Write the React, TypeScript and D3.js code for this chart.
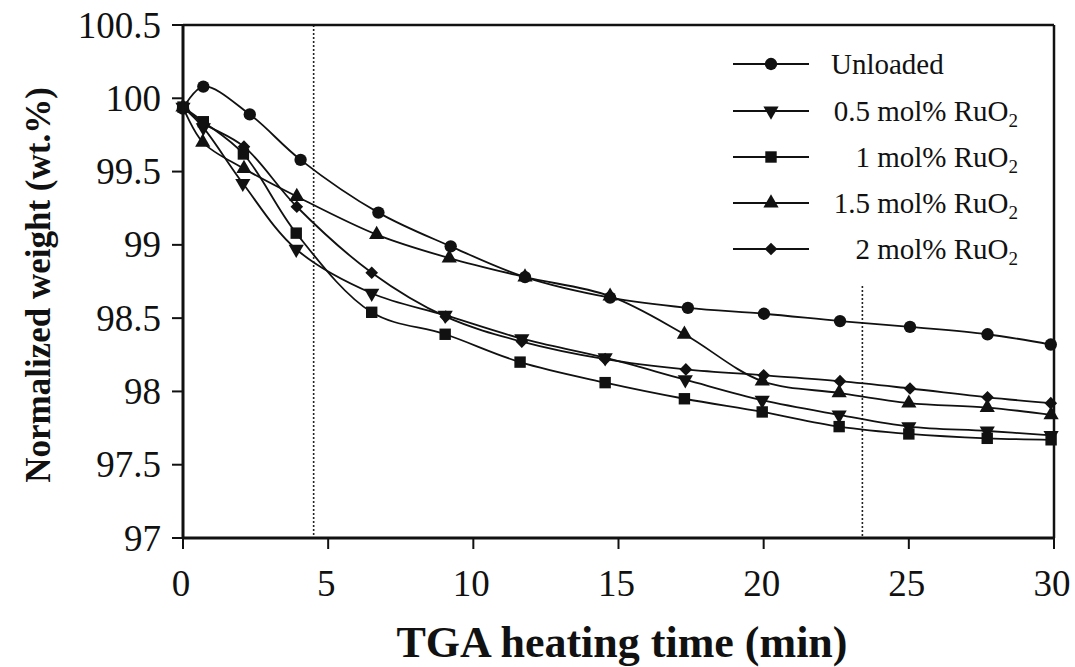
import React from 'react';
import * as d3 from 'd3';

// ---- data ----
const xTicks = [0, 5, 10, 15, 20, 25, 30];
const yTicks = [97, 97.5, 98, 98.5, 99, 99.5, 100, 100.5];
const yTickLabels = ['97', '97.5', '98', '98.5', '99', '99.5', '100', '100.5'];

const unloadedT = [0, 0.7, 2.3, 4.05, 6.73, 9.22, 11.78, 14.71, 17.39, 20.01, 22.63, 25.04, 27.71, 29.89];
const unloadedW = [99.93, 100.08, 99.89, 99.58, 99.22, 98.99, 98.78, 98.64, 98.57, 98.53, 98.48, 98.44, 98.39, 98.32];

const ru05T = [0, 0.7, 2.06, 3.9, 6.5, 9.03, 11.67, 14.54, 17.3, 19.95, 22.6, 25.0, 27.7, 29.9];
const ru05W = [99.94, 99.8, 99.42, 98.97, 98.67, 98.52, 98.36, 98.23, 98.08, 97.94, 97.84, 97.76, 97.73, 97.7];

const ru1T = [0, 0.7, 2.08, 3.9, 6.5, 9.03, 11.61, 14.54, 17.27, 19.95, 22.6, 25.0, 27.7, 29.9];
const ru1W = [99.94, 99.84, 99.62, 99.08, 98.54, 98.39, 98.2, 98.06, 97.95, 97.86, 97.76, 97.71, 97.68, 97.67];

const ru15T = [0, 0.68, 2.1, 3.92, 6.67, 9.17, 11.78, 14.71, 17.27, 19.95, 22.6, 25.0, 27.7, 29.9];
const ru15W = [99.94, 99.7, 99.52, 99.33, 99.07, 98.91, 98.78, 98.65, 98.39, 98.07, 97.99, 97.92, 97.89, 97.84];

const ru2T = [0, 0.7, 2.1, 3.92, 6.5, 9.05, 11.67, 14.54, 17.32, 20.0, 22.63, 25.04, 27.71, 29.89];
const ru2W = [99.94, 99.83, 99.67, 99.26, 98.81, 98.51, 98.34, 98.22, 98.15, 98.11, 98.07, 98.02, 97.96, 97.92];

const seriesNames = ['Unloaded', '0.5 mol% RuO', '1 mol% RuO', '1.5 mol% RuO', '2 mol% RuO'];
const seriesSubs = ['', '2', '2', '2', '2'];
const seriesMarkers = ['circle', 'down', 'square', 'up', 'diamond'];
const seriesT = [unloadedT, ru05T, ru1T, ru15T, ru2T];
const seriesW = [unloadedW, ru05W, ru1W, ru15W, ru2W];

const dottedTimes = [4.5, 23.4];
const dottedTop = [100.5, 98.72];

// ---- layout ----
const W = 1075;
const H = 667;
const left = 183;
const right = 1054;
const top = 25;
const bottom = 538;

const FONT = '"Liberation Serif", "Times New Roman", serif';

function markerPath(kind: string): string {
  if (kind === 'circle') return d3.symbol(d3.symbolCircle, 120)() as string;
  if (kind === 'square') return d3.symbol(d3.symbolSquare, 130)() as string;
  if (kind === 'up' || kind === 'down') return d3.symbol(d3.symbolTriangle, 100)() as string;
  return d3.symbol(d3.symbolSquare, 80)() as string;
}
function markerRot(kind: string): number {
  if (kind === 'down') return 180;
  if (kind === 'diamond') return 45;
  return 0;
}

export default function App() {
  const x = d3.scaleLinear().domain([0, 30]).range([left, right]);
  const y = d3.scaleLinear().domain([97, 100.5]).range([bottom, top]);
  const line = d3
    .line<[number, number]>()
    .x((d) => x(d[0]))
    .y((d) => y(d[1]))
    .curve(d3.curveCatmullRom.alpha(0.5));

  const legendX0 = 733;
  const legendX1 = 809;
  const legendRows = [64, 111, 157, 203, 249];

  return (
    <div style={{ position: 'absolute', left: 0, top: 0 }}>
      <svg width={W} height={H} viewBox={`0 0 ${W} ${H}`} style={{ display: 'block', background: '#fff' }}>
        <rect x={0} y={0} width={W} height={H} fill="#fff" />
        {/* dotted guides */}
        {dottedTimes.map((t, i) => (
          <line
            key={'dot' + i}
            x1={x(t)}
            x2={x(t)}
            y1={y(dottedTop[i])}
            y2={bottom}
            stroke="#222"
            strokeWidth={1.6}
            strokeDasharray="2,2"
          />
        ))}
        {/* series lines */}
        {seriesT.map((ts, si) => {
          const pts = ts.map((t, i) => [t, seriesW[si][i]] as [number, number]);
          return (
            <path key={'l' + si} d={line(pts) as string} fill="none" stroke="#111" strokeWidth={1.8} />
          );
        })}
        {/* markers */}
        {seriesT.map((ts, si) =>
          ts.map((t, i) => (
            <path
              key={'m' + si + '-' + i}
              d={markerPath(seriesMarkers[si])}
              transform={`translate(${x(t)},${y(seriesW[si][i])}) rotate(${markerRot(seriesMarkers[si])})`}
              fill="#111"
            />
          ))
        )}
        {/* frame */}
        <line x1={left} x2={right} y1={top} y2={top} stroke="#111" strokeWidth={2.5} />
        <line x1={right} x2={right} y1={top} y2={bottom} stroke="#111" strokeWidth={2.5} />
        <line x1={left} x2={left} y1={top} y2={bottom} stroke="#111" strokeWidth={3} />
        <line x1={left} x2={right} y1={bottom} y2={bottom} stroke="#111" strokeWidth={3} />
        {/* y ticks */}
        {yTicks.map((v, i) => (
          <g key={'yt' + i}>
            <line x1={left - 11} x2={left} y1={y(v)} y2={y(v)} stroke="#111" strokeWidth={2} />
            <text
              x={161}
              y={y(v) + 12.5}
              textAnchor="end"
              fontFamily={FONT}
              fontSize={37}
              fill="#111"
            >
              {yTickLabels[i]}
            </text>
          </g>
        ))}
        {/* x ticks */}
        {xTicks.map((v, i) => (
          <g key={'xt' + i}>
            <line x1={x(v)} x2={x(v)} y1={bottom} y2={bottom + 11} stroke="#111" strokeWidth={2} />
            <text
              x={x(v) - 2}
              y={596}
              textAnchor="middle"
              fontFamily={FONT}
              fontSize={37}
              fill="#111"
            >
              {String(v)}
            </text>
          </g>
        ))}
        {/* axis titles */}
        <text
          x={622}
          y={657}
          textAnchor="middle"
          fontFamily={FONT}
          fontWeight="bold"
          fontSize={44}
          fill="#111"
        >
          TGA heating time (min)
        </text>
        <text
          transform={`translate(50,285) rotate(-90)`}
          textAnchor="middle"
          fontFamily={FONT}
          fontWeight="bold"
          fontSize={35}
          fill="#111"
        >
          Normalized weight (wt.%)
        </text>
        {/* legend */}
        {seriesNames.map((name, i) => (
          <g key={'lg' + i}>
            <line x1={legendX0} x2={legendX1} y1={legendRows[i]} y2={legendRows[i]} stroke="#111" strokeWidth={1.8} />
            <path
              d={markerPath(seriesMarkers[i])}
              transform={`translate(${(legendX0 + legendX1) / 2},${legendRows[i]}) rotate(${markerRot(seriesMarkers[i])})`}
              fill="#111"
            />
            <text
              x={i === 0 ? 831 : 1018}
              y={legendRows[i] + 10}
              textAnchor={i === 0 ? 'start' : 'end'}
              fontFamily={FONT}
              fontSize={29}
              fill="#111"
            >
              {name}
              {seriesSubs[i] ? (
                <tspan fontSize={19} dy={6}>
                  {seriesSubs[i]}
                </tspan>
              ) : null}
            </text>
          </g>
        ))}
      </svg>
    </div>
  );
}
